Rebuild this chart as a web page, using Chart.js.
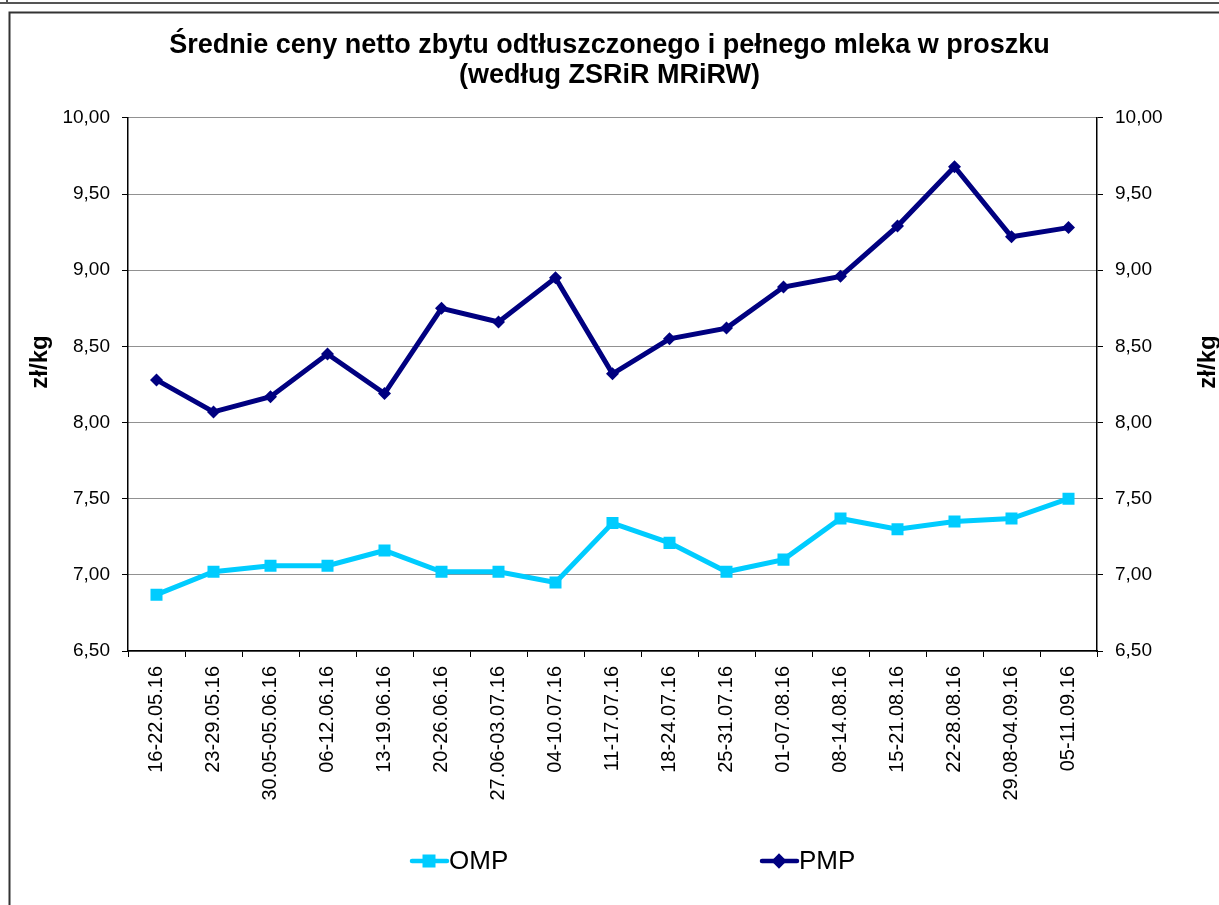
<!DOCTYPE html>
<html>
<head>
<meta charset="utf-8">
<script src="https://cdn.jsdelivr.net/npm/chart.js@4/dist/chart.umd.min.js"></script>
<style>
  html, body { margin: 0; padding: 0; background: #fff; }
  #wrap { width: 1219px; height: 905px; position: relative; }
</style>
</head>
<body>
<div id="wrap"><canvas id="c" width="1219" height="905"></canvas></div>
<script>
const categories = ["16-22.05.16","23-29.05.16","30.05-05.06.16","06-12.06.16","13-19.06.16","20-26.06.16","27.06-03.07.16","04-10.07.16","11-17.07.16","18-24.07.16","25-31.07.16","01-07.08.16","08-14.08.16","15-21.08.16","22-28.08.16","29.08-04.09.16","05-11.09.16"];
const omp = [6.87,7.02,7.06,7.06,7.16,7.02,7.02,6.95,7.34,7.21,7.02,7.10,7.37,7.30,7.35,7.37,7.50];
const pmp = [8.28,8.07,8.17,8.45,8.19,8.75,8.66,8.95,8.32,8.55,8.62,8.89,8.96,9.29,9.68,9.22,9.28];
const seriesNames = ["OMP","PMP"];
const titleLines = ["Średnie ceny netto zbytu odtłuszczonego i pełnego mleka w proszku","(według ZSRiR MRiRW)"];
const axisTitle = "zł/kg";
const yMin = 6.5, yMax = 10.0, yStep = 0.5;

const FONT = "'Liberation Sans', Arial, sans-serif";
const fmt = v => Number(v).toFixed(2).replace('.', ',');

const framePlugin = {
  id: 'frame',
  beforeDraw(chart) {
    const ctx = chart.ctx;
    ctx.save();
    ctx.fillStyle = '#fff';
    ctx.fillRect(0, 0, chart.width, chart.height);
    ctx.strokeStyle = '#555';
    ctx.lineWidth = 2;
    ctx.beginPath();
    ctx.moveTo(0, 3); ctx.lineTo(chart.width, 3);
    ctx.moveTo(7, 0); ctx.lineTo(7, 3);
    ctx.stroke();
    ctx.strokeStyle = '#333';
    ctx.lineWidth = 2;
    ctx.beginPath();
    ctx.moveTo(9.5, chart.height); ctx.lineTo(9.5, 12.5); ctx.lineTo(chart.width, 12.5);
    ctx.stroke();
    ctx.restore();
  },
  afterDraw(chart) {
    const ctx = chart.ctx;
    ctx.save();
    // axis titles
    ctx.fillStyle = '#000';
    ctx.font = "bold 24px " + FONT;
    ctx.textAlign = 'center';
    ctx.textBaseline = 'middle';
    [40, 1208].forEach(x => {
      ctx.save();
      ctx.translate(x, 362);
      ctx.rotate(-Math.PI / 2);
      ctx.fillText(axisTitle, 0, 0);
      ctx.restore();
    });
    // legend
    const items = [
      { ds: chart.data.datasets[0], x: 410 },
      { ds: chart.data.datasets[1], x: 760 }
    ];
    const ly = 861;
    items.forEach(it => {
      ctx.strokeStyle = it.ds.borderColor;
      ctx.lineWidth = 4.5;
      ctx.lineCap = 'round';
      ctx.beginPath();
      ctx.moveTo(it.x + 2, ly); ctx.lineTo(it.x + 37, ly);
      ctx.stroke();
      Chart.helpers.drawPoint(ctx, {
        pointStyle: it.ds.pointStyle,
        radius: it.ds.pointStyle === 'rect' ? 6 : 4.5,
        borderWidth: 1
      }, it.x + 19, ly);
      ctx.fillStyle = it.ds.borderColor;
      ctx.fill();
      ctx.fillStyle = '#000';
      ctx.font = "26px " + FONT;
      ctx.textAlign = 'left';
      ctx.textBaseline = 'middle';
      ctx.fillText(it.ds.label, it.x + 39, ly + 1);
    });
    ctx.restore();
  }
};

new Chart(document.getElementById('c'), {
  type: 'line',
  data: {
    labels: categories,
    datasets: [
      {
        label: seriesNames[0], data: omp,
        borderColor: '#00CCFF', backgroundColor: '#00CCFF',
        borderWidth: 5, pointStyle: 'rect', pointRadius: 8.5,
        pointBorderWidth: 0, tension: 0, yAxisID: 'y'
      },
      {
        label: seriesNames[1], data: pmp,
        borderColor: '#000080', backgroundColor: '#000080',
        borderWidth: 5, pointStyle: 'rectRot', pointRadius: 6.5,
        pointBorderWidth: 0, tension: 0, yAxisID: 'y'
      }
    ]
  },
  options: {
    responsive: false,
    animation: false,
    devicePixelRatio: 1,
    layout: { padding: { left: 0, right: 0, top: 0, bottom: 104 } },
    plugins: {
      legend: { display: false },
      tooltip: { enabled: false },
      title: {
        display: true,
        text: titleLines,
        color: '#000',
        font: { family: FONT, size: 27, weight: 'bold', lineHeight: 1.11 },
        padding: { top: 31, bottom: 27 }
      }
    },
    scales: {
      x: {
        type: 'category',
        offset: true,
        grid: {
          offset: true, drawOnChartArea: false, drawTicks: true,
          tickLength: 6, color: '#000', tickColor: '#000', lineWidth: 1
        },
        border: { display: true, color: '#000', width: 1.5 },
        ticks: {
          color: '#000', font: { family: FONT, size: 20 },
          minRotation: 90, maxRotation: 90, autoSkip: false, padding: 9
        },
        afterFit(scale) { scale.height = 150; }
      },
      y: {
        position: 'left',
        min: yMin, max: yMax,
        grid: {
          color: '#222', lineWidth: 1,
          tickLength: 6, tickColor: '#000', tickBorderDash: [], tickWidth: 1
        },
        border: { display: true, color: '#000', width: 1.5, dash: [1, 1] },
        ticks: {
          stepSize: yStep, color: '#000', font: { family: FONT, size: 19 },
          padding: 12, callback: v => fmt(v)
        },
        afterFit(scale) { scale.width = 128; }
      },
      y2: {
        position: 'right',
        min: yMin, max: yMax,
        grid: {
          drawOnChartArea: false, tickLength: 6, color: '#000', tickColor: '#000'
        },
        border: { display: true, color: '#000', width: 1.5 },
        ticks: {
          stepSize: yStep, color: '#000', font: { family: FONT, size: 19 },
          padding: 12, callback: v => fmt(v)
        },
        afterFit(scale) { scale.width = 122; }
      }
    }
  },
  plugins: [framePlugin]
});
</script>
</body>
</html>
